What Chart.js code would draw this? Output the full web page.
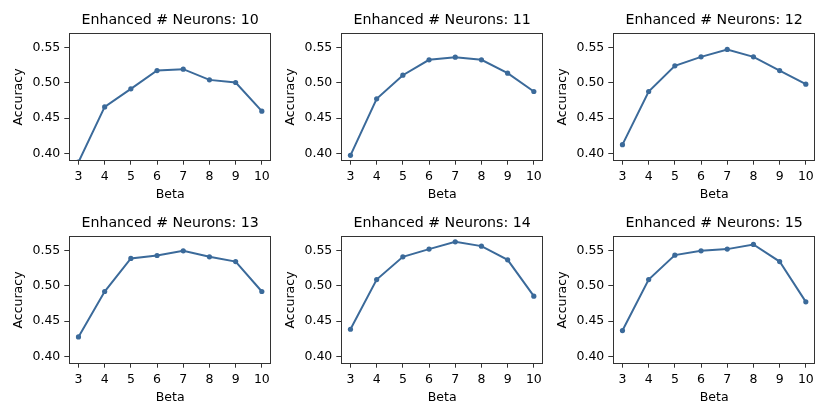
<!DOCTYPE html>
<html><head><meta charset="utf-8">
<script src="https://cdn.jsdelivr.net/npm/chart.js@4.4.0/dist/chart.umd.min.js"></script>
<style>
html,body{margin:0;padding:0;background:#fff;width:830px;height:420px;overflow:hidden;}
#wrap{position:relative;width:830px;height:420px;}
canvas{position:absolute;}
</style></head><body><div id="wrap"></div>
<script>
const betas = [3, 4, 5, 6, 7, 8, 9, 10];
const neurons = [10, 11, 12, 13, 14, 15];
const acc10 = [0.388, 0.466, 0.4915, 0.5174, 0.5193, 0.5042, 0.5005, 0.460];
const acc11 = [0.3976, 0.4774, 0.5108, 0.5325, 0.5362, 0.5325, 0.5136, 0.4878];
const acc12 = [0.4127, 0.4878, 0.524, 0.5367, 0.5472, 0.5367, 0.5174, 0.4981];
const acc13 = [0.4278, 0.492, 0.5387, 0.5429, 0.5495, 0.541, 0.5343, 0.492];
const acc14 = [0.4387, 0.5089, 0.541, 0.5519, 0.5622, 0.5561, 0.5368, 0.4854];
const acc15 = [0.4368, 0.5089, 0.5434, 0.5495, 0.5519, 0.5585, 0.5343, 0.4774];
const yTicks = [0.40, 0.45, 0.50, 0.55];
const xTicks = [3, 4, 5, 6, 7, 8, 9, 10];
const yTickLabels = ['0.40', '0.45', '0.50', '0.55'];
const series = [acc10, acc11, acc12, acc13, acc14, acc15];

const FONT = "'DejaVu Sans', sans-serif";
const LINE = '#3b6a9a';
const AX = '#333333';

const frame = {
  id: 'frame',
  afterDraw(chart) {
    const a = chart.chartArea, c = chart.ctx;
    c.save();
    c.strokeStyle = AX; c.lineWidth = 1;
    const l = Math.round(a.left) + 0.5, t = Math.round(a.top) + 0.5;
    const r = Math.round(a.right) - 0.5, b = Math.round(a.bottom) - 0.5;
    c.strokeRect(l, t, r - l, b - t);
    c.restore();
  }
};

const canvasLefts = [0, 272, 544];
const canvasTops = [0, 203];
const wrap = document.getElementById('wrap');

series.forEach((vals, i) => {
  const cv = document.createElement('canvas');
  cv.width = 283; cv.height = 205;
  cv.style.width = '283px'; cv.style.height = '205px';
  cv.style.left = canvasLefts[i % 3] + 'px';
  cv.style.top = canvasTops[Math.floor(i / 3)] + 'px';
  wrap.appendChild(cv);
  new Chart(cv, {
    type: 'line',
    data: {
      datasets: [{
        data: betas.map((b, k) => ({x: b, y: vals[k]})),
        borderColor: LINE, backgroundColor: LINE,
        borderWidth: 2, pointRadius: 2.6, pointHoverRadius: 2.6,
        pointBorderWidth: 0, tension: 0, clip: 0
      }]
    },
    options: {
      responsive: false, animation: false, devicePixelRatio: 1,
      layout: {padding: {left: 0, top: 0, right: 12, bottom: 0}},
      plugins: {
        legend: {display: false}, tooltip: {enabled: false},
        title: {
          display: true, fullSize: false,
          text: 'Enhanced # Neurons: ' + neurons[i],
          color: '#000', font: {family: FONT, size: 14.2, weight: 'normal'},
          padding: {top: 12.3, bottom: 3.96}
        }
      },
      scales: {
        x: {
          type: 'linear', min: 2.65, max: 10.35,
          afterBuildTicks: s => { s.ticks = xTicks.map(v => ({value: v})); },
          afterFit: s => { s.height = 44.3; },
          ticks: {color: '#000', font: {family: FONT, size: 12.5}, padding: 5, maxRotation: 0,
                  callback: v => String(v)},
          grid: {display: true, drawOnChartArea: false, drawTicks: true, tickLength: 4, color: AX, lineWidth: 1},
          border: {display: false},
          title: {display: true, text: 'Beta', color: '#000', font: {family: FONT, size: 12.5}, padding: {top: 4, bottom: 2.5}}
        },
        y: {
          type: 'linear', min: 0.39, max: 0.57,
          afterBuildTicks: s => { s.ticks = yTicks.map(v => ({value: v})); },
          afterFit: s => { s.width = 69.3; },
          ticks: {color: '#000', font: {family: FONT, size: 12.5}, padding: 4,
                  callback: (v) => yTickLabels[yTicks.findIndex(t => Math.abs(t - v) < 1e-9)]},
          grid: {display: true, drawOnChartArea: false, drawTicks: true, tickLength: 5, color: AX, lineWidth: 1},
          border: {display: false},
          title: {display: true, text: 'Accuracy', color: '#000', font: {family: FONT, size: 12.5}, padding: {top: 11.2, bottom: 4}}
        }
      }
    },
    plugins: [frame]
  });
});
</script></body></html>
